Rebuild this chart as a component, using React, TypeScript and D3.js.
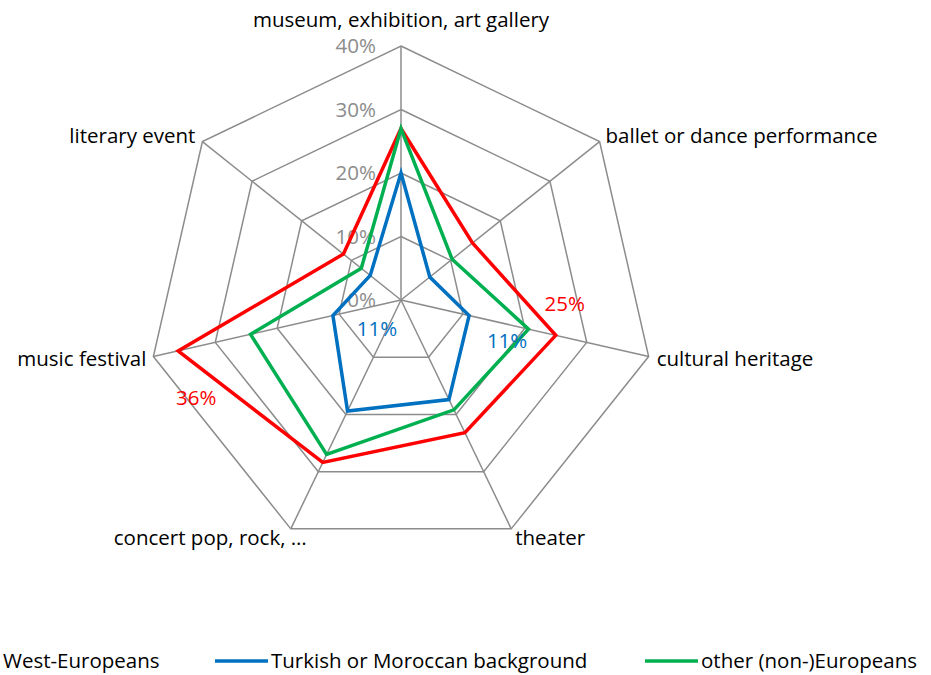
import React from "react";
import * as d3 from "d3";

const categories = [
  "museum, exhibition, art gallery",
  "ballet or dance performance",
  "cultural heritage",
  "theater",
  "concert pop, rock, …",
  "music festival",
  "literary event",
];
const westEuropeans = [27, 14.4, 25, 23.2, 28.4, 36, 11.6];
const turkishMoroccan = [20, 5.8, 11, 17.4, 19.4, 11, 6.2];
const otherEuropeans = [27, 10.3, 20.6, 19.2, 27, 24.3, 8];
const tickValues = [0, 10, 20, 30, 40];
const seriesNames = ["West-Europeans", "Turkish or Moroccan background", "other (non-)Europeans"];

const colors = ["#ff0000", "#0070c0", "#00b050"];
const seriesValues = [westEuropeans, turkishMoroccan, otherEuropeans];

// labels shown on some points (series index, category index, offset)
const pointLabels = [
  { s: 0, i: 2, dx: 9, dy: -32 },
  { s: 0, i: 5, dx: 18, dy: 47 },
  { s: 1, i: 2, dx: 38, dy: 25 },
  { s: 1, i: 5, dx: 44, dy: 13 },
];

const width = 931;
const height = 675;
const cx = 401;
const cy = 300;
const font = "'Open Sans', sans-serif";
const fs = 20.5;

export default function App() {
  const r = d3.scaleLinear().domain([0, 40]).range([0, 254]);
  const n = categories.length;
  const angle = (i: number) => (i * 2 * Math.PI) / n;
  const pt = (i: number, v: number): [number, number] => [
    Math.sin(angle(i)) * r(v),
    -Math.cos(angle(i)) * r(v),
  ];

  const ring = d3
    .lineRadial<number>()
    .angle((_, i) => angle(i))
    .curve(d3.curveLinearClosed);

  const seriesLine = d3
    .lineRadial<number>()
    .angle((_, i) => angle(i))
    .radius((d) => r(d))
    .curve(d3.curveLinearClosed);

  const labelPos = [
    { anchor: "middle", dx: 0, dy: -26 },
    { anchor: "start", dx: 6, dy: -6 },
    { anchor: "start", dx: 8, dy: 2 },
    { anchor: "start", dx: 4, dy: 9 },
    { anchor: "end", dx: 16, dy: 9 },
    { anchor: "end", dx: -7, dy: 2 },
    { anchor: "end", dx: -7, dy: -6 },
  ];

  const legendX = [-53, 215, 645];

  return (
    <svg
      width={width}
      height={height}
      style={{ position: "absolute", left: 0, top: 0, background: "#fff" }}
    >
      <g transform={`translate(${cx},${cy})`}>
        {tickValues.slice(1).map((t) => (
          <path
            key={t}
            d={ring.radius(() => r(t))(categories.map(() => t)) || ""}
            fill="none"
            stroke="#8c8c8c"
            strokeWidth={1.5}
          />
        ))}
        {categories.map((c, i) => {
          const [x, y] = pt(i, 40);
          return <line key={c} x1={0} y1={0} x2={x} y2={y} stroke="#8c8c8c" strokeWidth={1.5} />;
        })}
        {tickValues.map((t) => (
          <text
            key={t}
            x={-25}
            y={-r(t)}
            dy="0.35em"
            textAnchor="end"
            fontFamily={font}
            fontSize={fs}
            fill="#8c8c8c"
          >
            {t}%
          </text>
        ))}
        {seriesValues.map((vals, s) => (
          <path
            key={s}
            d={seriesLine(vals) || ""}
            fill="none"
            stroke={colors[s]}
            strokeWidth={3.5}
            strokeLinejoin="miter"
          />
        ))}
        {pointLabels.map((l, k) => {
          const v = seriesValues[l.s][l.i];
          const [x, y] = pt(l.i, v);
          return (
            <text
              key={k}
              x={x + l.dx}
              y={y + l.dy}
              dy="0.35em"
              textAnchor="middle"
              fontFamily={font}
              fontSize={fs}
              fill={colors[l.s]}
            >
              {Math.round(v)}%
            </text>
          );
        })}
        {categories.map((c, i) => {
          const [x, y] = pt(i, 40);
          const p = labelPos[i];
          return (
            <text
              key={c}
              x={x + p.dx}
              y={y + p.dy}
              dy="0.35em"
              textAnchor={p.anchor as any}
              fontFamily={font}
              fontSize={fs}
              fill="#000"
            >
              {c}
            </text>
          );
        })}
      </g>
      <g transform="translate(0,661)">
        {seriesNames.map((name, s) => (
          <g key={name} transform={`translate(${legendX[s]},0)`}>
            <line x1={0} x2={53} y1={0} y2={0} stroke={colors[s]} strokeWidth={3.5} />
            <text x={56} y={0} dy="0.35em" fontFamily={font} fontSize={fs} fill="#000">
              {name}
            </text>
          </g>
        ))}
      </g>
    </svg>
  );
}
